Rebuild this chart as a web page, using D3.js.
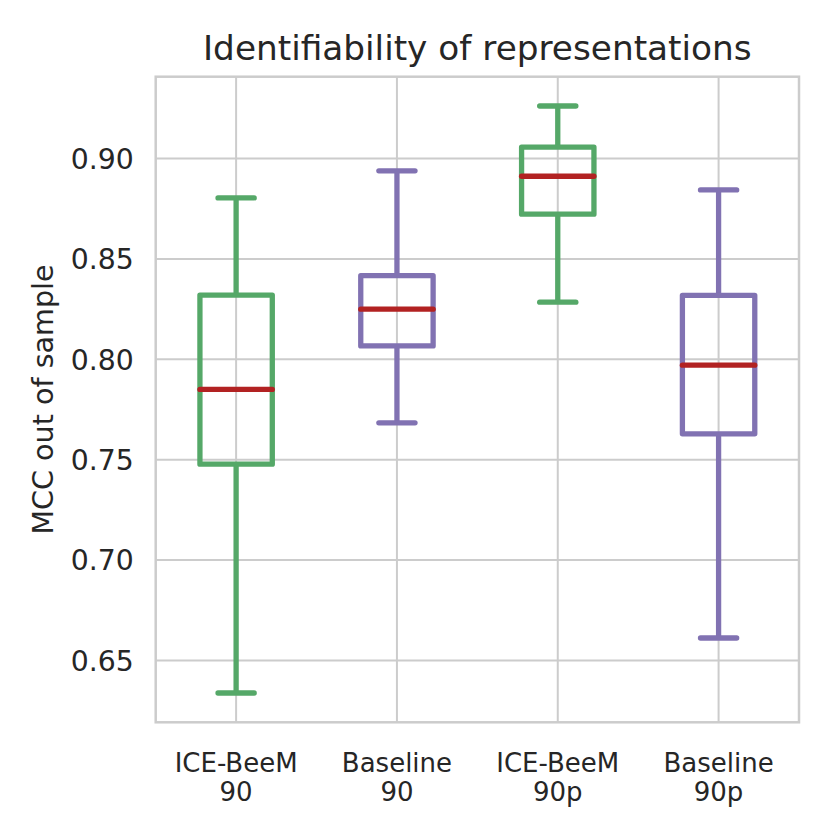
<!DOCTYPE html>
<html>
<head>
<meta charset="utf-8">
<script src="https://cdn.jsdelivr.net/npm/d3@7"></script>
<style>
  html, body { margin: 0; padding: 0; background: #fff; }
  text { font-family: "DejaVu Sans", sans-serif; fill: #262626; }
</style>
</head>
<body>
<div id="chart"></div>
<script>
// Box plot data
const categories = ["ICE-BeeM\n90", "Baseline\n90", "ICE-BeeM\n90p", "Baseline\n90p"];
const whiskerLow  = [0.6338, 0.7684, 0.8285, 0.6612];
const quart1      = [0.7478, 0.8067, 0.8723, 0.7629];
const medians     = [0.7850, 0.8250, 0.8912, 0.7971];
const quart3      = [0.8320, 0.8417, 0.9057, 0.8319];
const whiskerHigh = [0.8804, 0.8939, 0.9262, 0.8844];
const boxColors   = ["#55a868", "#8172b2", "#55a868", "#8172b2"];
const yTicks      = [0.65, 0.70, 0.75, 0.80, 0.85, 0.90];

const width = 830, height = 830;
const margin = { top: 76.7, right: 31, bottom: 107.7, left: 155.7 };
const innerW = width - margin.left - margin.right;
const innerH = height - margin.top - margin.bottom;

const svg = d3.select("#chart")
    .append("svg")
    .attr("width", width)
    .attr("height", height);

const g = svg.append("g")
    .attr("transform", `translate(${margin.left},${margin.top})`);

const boxes = categories.map((c, i) => ({
    name: c,
    lo: whiskerLow[i], q1: quart1[i], med: medians[i], q3: quart3[i], hi: whiskerHigh[i],
    color: boxColors[i]
}));

const x = d3.scaleBand()
    .domain(categories)
    .range([0, innerW])
    .padding(0);

const y = d3.scaleLinear()
    .domain([0.6192, 0.9408])
    .range([innerH, 0]);

const gridColor = "#cccccc";

// horizontal gridlines
g.selectAll(".hgrid")
    .data(yTicks)
    .enter().append("line")
    .attr("x1", 0).attr("x2", innerW)
    .attr("y1", d => y(d)).attr("y2", d => y(d))
    .attr("stroke", gridColor).attr("stroke-width", 2);

// vertical gridlines
g.selectAll(".vgrid")
    .data(categories)
    .enter().append("line")
    .attr("x1", d => x(d) + x.bandwidth() / 2).attr("x2", d => x(d) + x.bandwidth() / 2)
    .attr("y1", 0).attr("y2", innerH)
    .attr("stroke", gridColor).attr("stroke-width", 2);

// frame
g.append("rect")
    .attr("width", innerW).attr("height", innerH)
    .attr("fill", "none")
    .attr("stroke", gridColor).attr("stroke-width", 2.5);

// y tick labels
g.selectAll(".ytick")
    .data(yTicks)
    .enter().append("text")
    .attr("x", -22)
    .attr("y", d => y(d))
    .attr("dy", "0.36em")
    .attr("text-anchor", "end")
    .style("font-size", "28.3px")
    .text(d => d.toFixed(2));

// x tick labels (two lines)
const xt = g.selectAll(".xtick")
    .data(categories)
    .enter().append("text")
    .attr("text-anchor", "middle")
    .style("font-size", "26px")
    .attr("transform", d => `translate(${x(d) + x.bandwidth() / 2},${innerH})`);

xt.each(function(d) {
    const lines = d.split("\n");
    d3.select(this).selectAll("tspan")
        .data(lines)
        .enter().append("tspan")
        .attr("x", 0)
        .attr("y", (l, i) => 49.5 + i * 29.6)
        .text(l => l);
});

// y axis label
svg.append("text")
    .attr("transform", `translate(53,${margin.top + innerH / 2}) rotate(-90)`)
    .attr("text-anchor", "middle")
    .style("font-size", "28.6px")
    .text("MCC out of sample");

// title
svg.append("text")
    .attr("x", margin.left + innerW / 2)
    .attr("y", 60)
    .attr("text-anchor", "middle")
    .style("font-size", "34.3px")
    .text("Identifiability of representations");

// boxes
const lw = 5.3;
const boxW = x.bandwidth() * 0.45;
const capW = boxW * 0.5;

const bg = g.selectAll(".box")
    .data(boxes)
    .enter().append("g")
    .attr("transform", d => `translate(${x(d.name) + x.bandwidth() / 2},0)`);

// whiskers
bg.append("line")
    .attr("x1", 0).attr("x2", 0)
    .attr("y1", d => y(d.q3)).attr("y2", d => y(d.hi))
    .attr("stroke", d => d.color).attr("stroke-width", lw);
bg.append("line")
    .attr("x1", 0).attr("x2", 0)
    .attr("y1", d => y(d.q1)).attr("y2", d => y(d.lo))
    .attr("stroke", d => d.color).attr("stroke-width", lw);

// caps
bg.append("line")
    .attr("x1", -capW / 2).attr("x2", capW / 2)
    .attr("y1", d => y(d.hi)).attr("y2", d => y(d.hi))
    .attr("stroke", d => d.color).attr("stroke-width", lw)
    .attr("stroke-linecap", "round");
bg.append("line")
    .attr("x1", -capW / 2).attr("x2", capW / 2)
    .attr("y1", d => y(d.lo)).attr("y2", d => y(d.lo))
    .attr("stroke", d => d.color).attr("stroke-width", lw)
    .attr("stroke-linecap", "round");

// box body
bg.append("rect")
    .attr("x", -boxW / 2)
    .attr("width", boxW)
    .attr("y", d => y(d.q3))
    .attr("height", d => y(d.q1) - y(d.q3))
    .attr("fill", "none")
    .attr("stroke", d => d.color).attr("stroke-width", lw)
    .attr("stroke-linejoin", "round");

// median
bg.append("line")
    .attr("x1", -boxW / 2).attr("x2", boxW / 2)
    .attr("y1", d => y(d.med)).attr("y2", d => y(d.med))
    .attr("stroke", "#b22222").attr("stroke-width", lw)
    .attr("stroke-linecap", "round");
</script>
</body>
</html>
